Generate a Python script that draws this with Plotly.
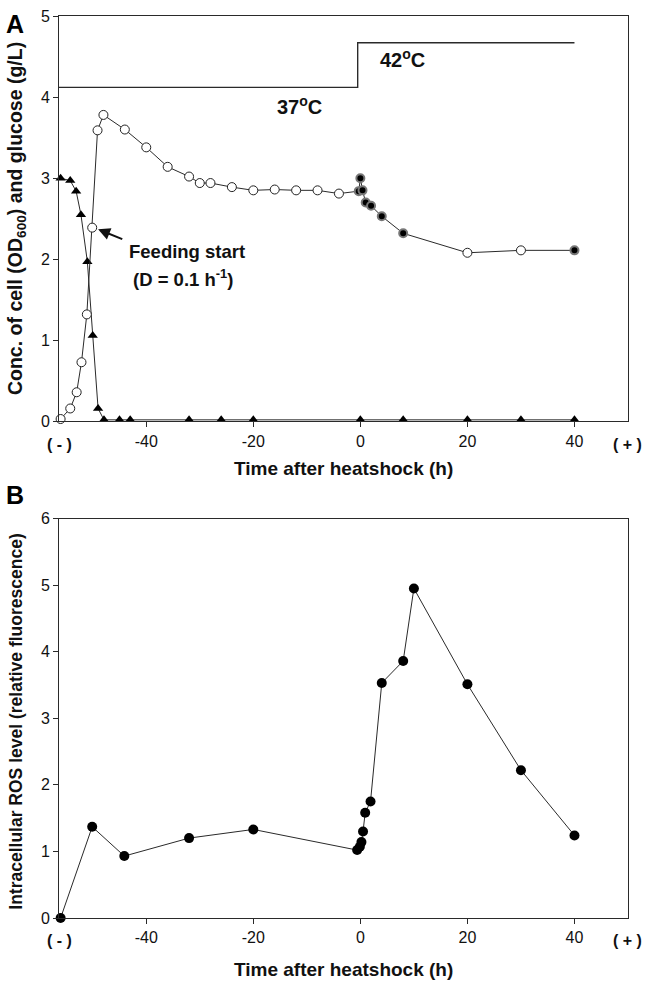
import plotly.graph_objects as go
from plotly.subplots import make_subplots

# ---------------- Data ----------------
# Panel A: cell concentration (OD600), open circles before heatshock
cell_x = [-56, -54.2, -53, -52.1, -51.1, -50.1, -49.1, -48, -44, -40, -36, -32, -30, -28, -24,
          -20, -16, -12, -8, -4]
cell_y = [0.03, 0.16, 0.36, 0.73, 1.32, 2.39, 3.59, 3.78, 3.60, 3.38, 3.14, 3.02, 2.94, 2.94, 2.89,
          2.85, 2.86, 2.85, 2.85, 2.81]
# Panel A: cell concentration after heatshock
hs_x = [-0.3, 0, 0.4, 1, 2, 4, 8, 20, 30, 40]
hs_y = [2.84, 3.00, 2.85, 2.70, 2.66, 2.53, 2.32, 2.08, 2.11, 2.11]
hs_filled = [True, True, True, True, True, True, True, False, False, True]

# Panel A: glucose (triangles)
glc_x = [-56, -54.2, -53.1, -52.2, -51, -50, -49, -47.9, -45, -43, -32, -26, -20, 0, 8, 20, 30, 40]
glc_y = [3.00, 2.97, 2.84, 2.55, 1.97, 1.06, 0.16, 0.02, 0.02, 0.02, 0.02, 0.02, 0.02, 0.02, 0.02,
         0.02, 0.02, 0.02]

# Panel A: temperature profile
temp_x = [-56.3, -0.5, -0.5, 40]
temp_y = [4.12, 4.12, 4.67, 4.67]

# Panel B: intracellular ROS level
ros_x = [-56, -50.1, -44.1, -32, -20, -0.6, -0.1, 0.2, 0.5, 0.9, 1.9, 4, 8, 10, 20, 30, 40]
ros_y = [0.0, 1.37, 0.93, 1.20, 1.33, 1.02, 1.07, 1.14, 1.30, 1.58, 1.75, 3.53, 3.86, 4.95, 3.51,
         2.22, 1.24]

xtick_vals = [-40, -20, 0, 20, 40]
xtick_text = ["-40", "-20", "0", "20", "40"]
ytickA = [0, 1, 2, 3, 4, 5]
ytickB = [0, 1, 2, 3, 4, 5, 6]

FONT = "Liberation Sans, Arial, sans-serif"
LINE = "#2a2a2a"
TXT = "#111"

# ---------------- Figure ----------------
fig = make_subplots(rows=2, cols=1)

fig.update_layout(
    width=645, height=986,
    margin=dict(l=59, r=17, t=8, b=68),
    paper_bgcolor="white", plot_bgcolor="white",
    showlegend=False,
    font=dict(family=FONT, size=16, color=TXT),
)

# temperature line
fig.add_trace(go.Scatter(x=temp_x, y=temp_y, mode="lines",
                         line=dict(color=LINE, width=1.4), hoverinfo="skip"), row=1, col=1)

# glucose
fig.add_trace(go.Scatter(x=glc_x, y=glc_y, mode="lines+markers",
                         line=dict(color=LINE, width=1),
                         marker=dict(symbol="triangle-up", size=9, color="black",
                                     line=dict(width=0))), row=1, col=1)

# cell line (connect before and after heatshock)
all_x = cell_x + hs_x
all_y = cell_y + hs_y
fig.add_trace(go.Scatter(x=all_x, y=all_y, mode="lines",
                         line=dict(color=LINE, width=1)), row=1, col=1)
# open circles
open_x = cell_x + [x for x, f in zip(hs_x, hs_filled) if not f]
open_y = cell_y + [y for y, f in zip(hs_y, hs_filled) if not f]
fig.add_trace(go.Scatter(x=open_x, y=open_y, mode="markers",
                         marker=dict(symbol="circle", size=9, color="white",
                                     line=dict(color="#222", width=1))), row=1, col=1)
# filled heatshock circles with gray halo
fx = [x for x, f in zip(hs_x, hs_filled) if f]
fy = [y for y, f in zip(hs_y, hs_filled) if f]
fig.add_trace(go.Scatter(x=fx, y=fy, mode="markers",
                         marker=dict(symbol="circle", size=8, color="black",
                                     line=dict(color="#777", width=2))), row=1, col=1)

# ROS
fig.add_trace(go.Scatter(x=ros_x, y=ros_y, mode="lines+markers",
                         line=dict(color=LINE, width=1),
                         marker=dict(symbol="circle", size=10, color="black",
                                     line=dict(width=0))), row=2, col=1)

axis_common = dict(showgrid=False, zeroline=False, showline=True, linecolor=LINE, linewidth=1,
                   mirror=True, ticks="outside", ticklen=5, tickcolor=LINE,
                   tickfont=dict(family=FONT, size=16, color=TXT))

fig.update_xaxes(range=[-56.3, 50], tickvals=xtick_vals, ticktext=xtick_text, **axis_common)
fig.update_yaxes(**axis_common)
fig.update_xaxes(domain=[0, 1])
fig.update_yaxes(range=[0, 5], tickvals=ytickA, domain=[0.5505, 1.0], row=1, col=1)
fig.update_yaxes(range=[0, 6], tickvals=ytickB, domain=[0.0, 0.4429], row=2, col=1)

for tr in fig.data:
    tr.update(cliponaxis=False)

ann = []
# axis titles
for yy in [0.4978, -0.057]:
    ann.append(dict(text="<b>Time after heatshock (h)</b>", xref="paper", yref="paper",
                    x=0.5, y=yy, showarrow=False, xanchor="center", yanchor="middle",
                    font=dict(family=FONT, size=19, color=TXT)))
ann.append(dict(text="<b>Conc. of cell (OD<sub>600</sub>) and glucose (g/L)</b>",
                xref="paper", yref="paper", x=-0.0756, y=0.776, textangle=-90,
                showarrow=False, xanchor="center", yanchor="middle",
                font=dict(family=FONT, size=19.5, color=TXT)))
ann.append(dict(text="<b>Intracellular ROS level (relative fluorescence)</b>",
                xref="paper", yref="paper", x=-0.0756, y=0.2176, textangle=-90,
                showarrow=False, xanchor="center", yanchor="middle",
                font=dict(family=FONT, size=17.5, color=TXT)))
# (-) and (+) tick-like labels
for yr in ["y", "y2"]:
    ann.append(dict(text="<b>( - )</b>", xref="paper", yref=yr + " domain", x=0.0, y=0,
                    yshift=-23, showarrow=False, xanchor="center", yanchor="middle",
                    font=dict(family=FONT, size=16, color=TXT)))
    ann.append(dict(text="<b>( + )</b>", xref="paper", yref=yr + " domain", x=1.028, y=0,
                    yshift=-23, showarrow=False, xanchor="right", yanchor="middle",
                    font=dict(family=FONT, size=16, color=TXT)))
# panel letters
ann.append(dict(text="<b>A</b>", xref="paper", yref="paper", x=-0.077, y=0.991,
                showarrow=False, xanchor="center", yanchor="middle",
                font=dict(family=FONT, size=25, color="black")))
ann.append(dict(text="<b>B</b>", xref="paper", yref="paper", x=-0.077, y=0.469,
                showarrow=False, xanchor="center", yanchor="middle",
                font=dict(family=FONT, size=25, color="black")))
# temperature labels
ann.append(dict(text="<b>37<sup>o</sup>C</b>", xref="x", yref="y", x=-11.3, y=3.90,
                showarrow=False, font=dict(family=FONT, size=20, color=TXT)))
ann.append(dict(text="<b>42<sup>o</sup>C</b>", xref="x", yref="y", x=7.9, y=4.48,
                showarrow=False, font=dict(family=FONT, size=20, color=TXT)))
# feeding start arrow and text
ann.append(dict(text="", xref="x", yref="y", x=-49.0, y=2.37, ax=-44.2, ay=2.24,
                axref="x", ayref="y", showarrow=True, arrowhead=2, arrowsize=1.2,
                arrowwidth=2, arrowcolor=TXT))
ann.append(dict(text="<b>Feeding start</b>", xref="x", yref="y", x=-32.4, y=2.10,
                showarrow=False, font=dict(family=FONT, size=18.5, color=TXT)))
ann.append(dict(text="<b>(D = 0.1 h<sup>-1</sup>)</b>", xref="x", yref="y", x=-33.1, y=1.77,
                showarrow=False, font=dict(family=FONT, size=18.5, color=TXT)))

fig.update_layout(annotations=ann)

fig.write_html("out.html", config={"displayModeBar": False},
               post_script="document.body.style.margin='0';")
